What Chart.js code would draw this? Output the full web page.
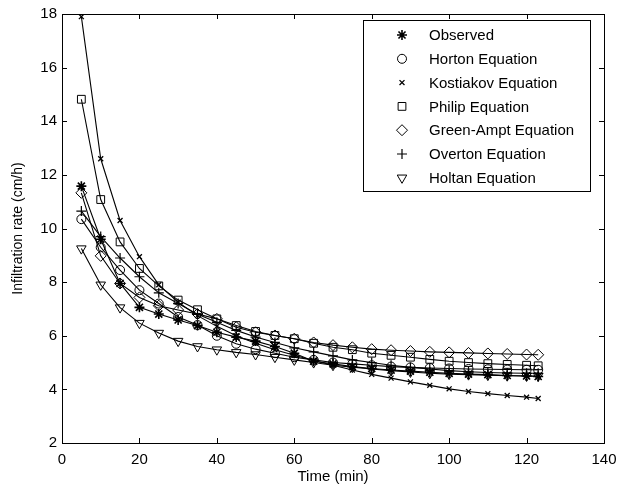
<!DOCTYPE html>
<html>
<head>
<meta charset="utf-8">
<script src="https://cdn.jsdelivr.net/npm/chart.js@4"></script>
<style>
  html, body { margin: 0; padding: 0; background: #fff; }
  #wrap { width: 629px; height: 491px; }
</style>
</head>
<body>
<div id="wrap"><canvas id="infChart" width="629" height="491"></canvas></div>
<script>
// time in minutes
const times = [5, 10, 15, 20, 25, 30, 35, 40, 45, 50, 55, 60, 65, 70, 75, 80, 85, 90, 95, 100, 105, 110, 115, 120, 123];

// infiltration rate (cm/h)
const observed  = [11.58, 9.6, 7.95, 7.06, 6.81, 6.59, 6.38, 6.13, 5.95, 5.8, 5.6, 5.35, 5.05, 4.95, 4.85, 4.78, 4.72, 4.68, 4.64, 4.6, 4.57, 4.55, 4.52, 4.5, 4.48];
const horton    = [10.35, 9.3, 8.45, 7.7, 7.2, 6.7, 6.4, 6.0, 5.7, 5.5, 5.35, 5.2, 5.1, 5.0, 4.95, 4.9, 4.85, 4.82, 4.8, 4.78, 4.76, 4.75, 4.74, 4.73, 4.73];
const kostiakov = [17.9, 12.6, 10.3, 8.95, 7.9, 7.25, 6.75, 6.35, 6.0, 5.72, 5.48, 5.27, 5.08, 4.9, 4.72, 4.56, 4.42, 4.28, 4.15, 4.02, 3.92, 3.84, 3.77, 3.71, 3.66];
const philip    = [14.82, 11.08, 9.5, 8.51, 7.86, 7.33, 6.97, 6.63, 6.38, 6.16, 6.01, 5.89, 5.72, 5.57, 5.48, 5.35, 5.27, 5.2, 5.12, 5.05, 5.0, 4.96, 4.93, 4.9, 4.88];
const greenAmpt = [11.33, 8.98, 7.95, 7.43, 7.12, 6.96, 6.81, 6.63, 6.32, 6.13, 6.01, 5.89, 5.75, 5.65, 5.57, 5.5, 5.46, 5.43, 5.4, 5.38, 5.36, 5.34, 5.32, 5.3, 5.29];
const overton   = [10.65, 9.7, 8.9, 8.2, 7.6, 7.2, 6.8, 6.5, 6.2, 5.95, 5.75, 5.55, 5.4, 5.25, 5.1, 5.0, 4.9, 4.82, 4.76, 4.7, 4.66, 4.63, 4.61, 4.6, 4.6];
const holtan    = [9.25, 7.9, 7.05, 6.47, 6.1, 5.8, 5.6, 5.48, 5.38, 5.3, 5.2, 5.1, 5.0, 4.9, 4.83, 4.76, 4.7, 4.65, 4.6, 4.57, 4.55, 4.53, 4.51, 4.5, 4.5];

const seriesNames = ['Observed', 'Horton Equation', 'Kostiakov Equation', 'Philip Equation',
                     'Green-Ampt Equation', 'Overton Equation', 'Holtan Equation'];
const xTicks = [0, 20, 40, 60, 80, 100, 120, 140];
const yTicks = [2, 4, 6, 8, 10, 12, 14, 16, 18];

const FONT = '"Liberation Sans", Arial, Helvetica, sans-serif';

const markerStyles = [
    { pointStyle: 'star',     radius: 5,   rotation: 0,   width: 1.6 },
    { pointStyle: 'circle',   radius: 4.5, rotation: 0,   width: 1 },
    { pointStyle: 'crossRot', radius: 3.5, rotation: 0,   width: 1.3 },
    { pointStyle: 'rect',     radius: 5.5, rotation: 0,   width: 1 },
    { pointStyle: 'rectRot',  radius: 5.5, rotation: 0,   width: 1 },
    { pointStyle: 'cross',    radius: 5,   rotation: 0,   width: 1.2 },
    { pointStyle: 'triangle', radius: 5.5, rotation: 180, width: 1 }
];

function toPoints(values) {
    return values.map((v, i) => ({ x: times[i], y: v }));
}

const seriesValues = [observed, horton, kostiakov, philip, greenAmpt, overton, holtan];

const datasets = seriesValues.map((vals, i) => ({
    label: seriesNames[i],
    data: toPoints(vals),
    borderColor: '#000',
    borderWidth: 1.1,
    backgroundColor: 'rgba(0,0,0,0)',
    pointStyle: markerStyles[i].pointStyle,
    pointRadius: markerStyles[i].radius,
    pointRotation: markerStyles[i].rotation,
    pointBorderWidth: markerStyles[i].width,
    pointBorderColor: '#000',
    pointBackgroundColor: 'rgba(0,0,0,0)',
    tension: 0,
    fill: false
}));

// MATLAB-style box with inward ticks on all sides
const boxPlugin = {
    id: 'boxFrame',
    afterDatasetsDraw(chart) {
        const { ctx, chartArea: a, scales } = chart;
        ctx.save();
        ctx.strokeStyle = '#000';
        ctx.lineWidth = 1;
        ctx.strokeRect(Math.round(a.left) + 0.5, Math.round(a.top) + 0.5,
                       Math.round(a.right - a.left), Math.round(a.bottom - a.top));
        const len = 5;
        ctx.beginPath();
        xTicks.forEach(t => {
            const px = Math.round(scales.x.getPixelForValue(t)) + 0.5;
            ctx.moveTo(px, a.bottom); ctx.lineTo(px, a.bottom - len);
            ctx.moveTo(px, a.top); ctx.lineTo(px, a.top + len);
        });
        yTicks.forEach(t => {
            const py = Math.round(scales.y.getPixelForValue(t)) + 0.5;
            ctx.moveTo(a.left, py); ctx.lineTo(a.left + len, py);
            ctx.moveTo(a.right, py); ctx.lineTo(a.right - len, py);
        });
        ctx.stroke();
        ctx.restore();
    }
};

// legend box drawn inside the axes, top right
const legendPlugin = {
    id: 'boxLegend',
    afterDraw(chart) {
        const { ctx } = chart;
        const left = 363, top = 20, w = 227, h = 171;
        const rowH = 23.8, firstY = 35;
        ctx.save();
        ctx.fillStyle = '#fff';
        ctx.fillRect(left, top, w, h);
        ctx.strokeStyle = '#000';
        ctx.lineWidth = 1;
        ctx.strokeRect(left + 0.5, top + 0.5, w, h);
        ctx.font = '15px ' + FONT;
        ctx.textBaseline = 'middle';
        seriesNames.forEach((name, i) => {
            const y = firstY + i * rowH;
            const m = markerStyles[i];
            ctx.fillStyle = 'rgba(0,0,0,0)';
            ctx.strokeStyle = '#000';
            ctx.lineWidth = m.width;
            Chart.helpers.drawPoint(ctx, {
                pointStyle: m.pointStyle,
                radius: m.radius,
                rotation: m.rotation,
                borderWidth: m.width
            }, 402, y);
            ctx.fillStyle = '#000';
            ctx.fillText(name, 429, y + 1);
        });
        ctx.restore();
    }
};

const ctx = document.getElementById('infChart');
new Chart(ctx, {
    type: 'line',
    data: { datasets },
    options: {
        responsive: false,
        animation: false,
        devicePixelRatio: 1,
        layout: { padding: { top: 12, right: 25, left: 0, bottom: 0 } },
        plugins: {
            legend: { display: false },
            tooltip: { enabled: false }
        },
        scales: {
            x: {
                type: 'linear',
                min: 0,
                max: 140,
                afterBuildTicks: s => { s.ticks = xTicks.map(v => ({ value: v })); },
                afterFit: s => { s.height = 48; },
                grid: { display: false, drawTicks: false, tickLength: 0 },
                border: { display: false },
                ticks: { color: '#000', font: { family: FONT, size: 15 }, padding: 8, maxRotation: 0 },
                title: { display: true, text: 'Time (min)', color: '#000', font: { family: FONT, size: 15 }, padding: { top: 0, bottom: 5 } }
            },
            y: {
                type: 'linear',
                min: 2,
                max: 18,
                afterBuildTicks: s => { s.ticks = yTicks.map(v => ({ value: v })); },
                afterFit: s => { s.width = 62; },
                grid: { display: false, drawTicks: false, tickLength: 0 },
                border: { display: false },
                ticks: { color: '#000', font: { family: FONT, size: 15 }, padding: 5 },
                title: { display: true, text: 'Infiltration rate (cm/h)', color: '#000', font: { family: FONT, size: 14 }, padding: { top: 10, bottom: 0 } }
            }
        }
    },
    plugins: [boxPlugin, legendPlugin]
});
</script>
</body>
</html>
